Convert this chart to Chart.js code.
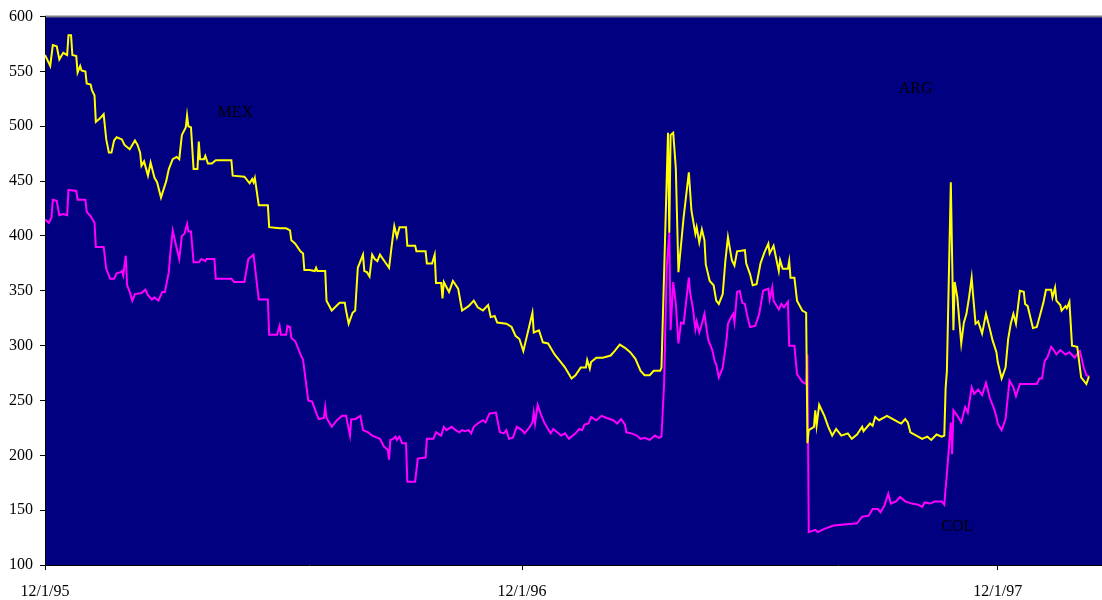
<!DOCTYPE html>
<html>
<head>
<meta charset="utf-8">
<script src="https://cdn.jsdelivr.net/npm/chart.js@4/dist/chart.umd.min.js"></script>
<style>
html,body{margin:0;padding:0;background:#fff;}
#wrap{width:1102px;height:600px;}
</style>
</head>
<body>
<div id="wrap"><canvas id="c" width="1102" height="600"></canvas></div>
<script>
// x values are days since 12/1/95
const tickDays = [0, 366, 731];
const tickLabels = ["12/1/95", "12/1/96", "12/1/97"];

const yellowDays = [0,4,6,9,11,14,17,18,20,21,24,25,27,28,31,32,35,36,38,39,42,45,47,49,51,53,55,59,61,65,69,71,73,74,76,79,81,84,86,89,93,95,98,101,103,105,108,109,110,112,114,117,118,119,122,123,125,128,131,143,144,153,157,159,160,161,164,171,172,180,185,188,189,192,196,198,199,203,207,208,209,215,216,220,226,230,231,233,236,238,240,244,245,247,249,251,253,255,257,261,264,266,268,270,272,277,278,284,285,292,293,297,299,300,304,305,306,310,313,317,320,325,329,332,336,340,342,345,347,354,358,361,364,367,374,375,379,382,386,391,395,399,404,407,411,415,416,418,419,423,428,434,437,441,445,449,453,457,460,464,467,472,473,478,479,480,482,484,486,488,490,494,496,499,500,502,504,506,507,510,513,515,517,520,522,524,527,529,531,537,538,541,543,546,549,552,555,556,559,563,564,566,570,571,572,575,577,581,584,585,586,590,591,592,594,598,601,604,607,611,616,619,623,627,628,633,635,637,640,646,655,657,660,662,664,670,673,677,680,684,688,690,691,692,695,697,698,700,703,705,707,709,711,712,714,716,719,722,725,727,730,731,734,737,739,741,743,745,748,751,752,754,758,761,766,768,772,773,775,776,779,780,783,784,786,788,792,795,799,801];
const yellowVals = [565,555,574,573,561,567,565,583,583,565,564,549,555,551,550,539,538,533,528,504,507,511,488,476,476,487,490,488,483,479,487,483,476,464,468,455,467,453,449,435,450,461,470,472,470,492,499,510,500,499,461,461,486,470,470,473,466,466,469,469,455,454,448,452,449,453,428,428,408,407,407,405,396,393,386,384,369,369,368,371,368,368,341,332,339,339,332,320,330,332,371,383,368,367,363,383,379,377,383,376,371,391,409,399,408,408,391,391,386,386,375,375,383,357,357,343,358,349,359,352,332,336,341,335,332,337,326,327,321,320,317,309,306,295,330,312,314,303,302,292,286,280,270,273,280,280,287,279,285,289,289,291,295,301,298,294,288,277,273,273,277,277,280,494,403,492,494,462,367,392,417,458,423,402,408,394,406,396,374,359,355,341,338,347,377,399,378,373,386,387,375,365,355,356,375,385,393,384,391,368,378,370,370,377,362,362,341,332,330,211,223,226,241,227,246,236,226,218,224,218,220,215,219,226,222,229,227,235,232,236,230,229,233,230,221,217,215,217,214,219,217,218,261,277,449,314,358,344,302,321,329,344,362,347,320,322,311,329,315,305,294,285,270,280,306,320,329,320,350,349,338,336,316,317,339,351,351,344,353,341,337,332,336,334,340,300,299,271,265,272];

const magentaDays = [0,3,5,6,9,11,14,17,18,24,25,31,32,35,38,39,45,47,50,53,55,58,59,60,62,63,65,67,69,74,77,79,82,84,87,90,92,95,96,98,100,103,105,107,109,110,112,114,118,120,123,124,130,131,143,145,153,156,159,160,164,171,172,178,180,181,185,186,188,189,192,196,198,202,205,208,210,214,215,216,220,224,228,231,234,235,238,242,244,248,251,257,260,263,264,265,267,269,270,272,274,277,278,284,286,292,293,298,300,304,306,308,312,315,318,320,322,325,327,329,332,336,338,341,346,349,352,354,356,359,362,366,368,372,374,375,376,378,380,383,386,388,390,393,396,399,402,407,410,412,414,417,419,423,427,431,436,439,442,445,446,450,454,457,460,464,468,471,473,475,477,479,480,482,484,486,488,490,492,494,495,497,499,500,502,504,506,508,509,512,514,515,517,520,523,524,526,528,529,531,533,535,537,539,541,545,548,551,555,556,558,559,563,565,567,570,571,575,577,581,584,585,586,591,593,598,605,623,627,632,635,639,641,644,647,649,653,656,660,665,670,673,675,679,683,688,690,691,692,695,696,697,700,703,706,708,711,713,716,719,722,725,728,730,731,734,737,740,743,745,748,752,761,763,765,767,769,772,774,776,779,783,786,790,793,794,797,799,801];
const magentaVals = [415,412,417,433,432,419,420,419,442,441,433,433,422,418,412,390,390,370,361,361,366,367,368,364,382,355,349,341,347,348,351,346,342,344,341,349,349,367,382,405,394,379,400,402,411,404,404,376,376,379,377,379,379,361,361,358,358,379,382,383,342,342,310,310,318,310,310,318,317,307,304,292,287,250,249,239,233,234,244,234,226,232,236,236,218,233,233,236,223,221,218,215,208,205,196,214,215,217,214,217,211,211,176,176,197,198,215,215,221,218,226,223,226,223,221,223,222,223,220,226,229,232,230,238,239,221,220,223,215,216,226,223,220,226,230,239,229,246,239,230,224,220,224,221,218,220,215,220,224,223,228,229,235,232,236,234,232,229,233,228,221,220,218,215,216,214,218,216,217,265,371,403,314,358,338,302,321,320,341,362,348,335,315,322,312,320,329,312,305,296,285,283,271,280,306,320,325,329,321,349,350,339,338,326,317,318,329,350,352,342,353,341,333,338,335,340,300,300,274,267,265,292,130,132,130,133,136,138,144,145,151,151,148,154,165,156,158,162,158,156,155,153,157,156,158,158,155,170,183,230,201,241,236,230,244,239,262,256,260,255,266,252,243,235,229,223,233,268,262,254,265,265,265,270,270,286,289,299,296,292,296,292,294,289,294,295,280,273,272];

// text labels placed in data coordinates
const noteTexts = ["MEX", "ARG", "COL"];
const noteDays = [146, 668, 700];
const noteVals = [512, 534, 135];

function pts(xs, ys) { return xs.map((x, i) => ({x: x, y: ys[i]})); }

const bgPlugin = {
  id: 'bg',
  beforeDraw(chart) {
    const a = chart.chartArea, ctx = chart.ctx;
    ctx.save();
    ctx.fillStyle = '#000080';
    ctx.fillRect(a.left, a.top, a.right - a.left, a.bottom - a.top);
    ctx.strokeStyle = '#808080';
    ctx.lineWidth = 2;
    ctx.beginPath();
    ctx.moveTo(a.left, a.top);
    ctx.lineTo(a.right, a.top);
    ctx.stroke();
    ctx.restore();
  },
  afterDatasetsDraw(chart) {
    const ctx = chart.ctx, xs = chart.scales.x, ys = chart.scales.y;
    ctx.save();
    ctx.fillStyle = '#000000';
    ctx.font = '16px "Liberation Serif", "Times New Roman", serif';
    ctx.textAlign = 'center';
    ctx.textBaseline = 'middle';
    noteTexts.forEach((t, i) => {
      ctx.fillText(t, xs.getPixelForValue(noteDays[i]), ys.getPixelForValue(noteVals[i]));
    });
    ctx.restore();
  }
};

new Chart(document.getElementById('c'), {
  type: 'line',
  data: {
    datasets: [
      {label: 'MEX', data: pts(yellowDays, yellowVals), borderColor: '#FFFF00', borderWidth: 2, pointRadius: 0, tension: 0, fill: false},
      {label: 'COL', data: pts(magentaDays, magentaVals), borderColor: '#FF00FF', borderWidth: 2, pointRadius: 0, tension: 0, fill: false}
    ]
  },
  options: {
    responsive: false,
    animation: false,
    layout: {padding: {top: 15, right: 0, bottom: 0, left: 0}},
    plugins: {legend: {display: false}, tooltip: {enabled: false}},
    scales: {
      x: {
        type: 'linear',
        min: 0,
        max: 811,
        afterBuildTicks(scale) { scale.ticks = tickDays.map(v => ({value: v})); },
        afterFit(scale) { scale.height = 35; },
        ticks: {
          autoSkip: false,
          maxRotation: 0,
          padding: 12,
          color: '#000',
          font: {family: '"Liberation Serif", "Times New Roman", serif', size: 16},
          callback(v) { const i = tickDays.indexOf(v); return i >= 0 ? tickLabels[i] : ''; }
        },
        grid: {drawOnChartArea: false, drawTicks: true, tickLength: 5, color: '#000'},
        border: {display: true, color: '#000', width: 1}
      },
      y: {
        min: 100,
        max: 600,
        afterFit(scale) { scale.width = 45; },
        ticks: {
          stepSize: 50,
          padding: 7,
          color: '#000',
          font: {family: '"Liberation Serif", "Times New Roman", serif', size: 16}
        },
        grid: {drawOnChartArea: false, drawTicks: true, tickLength: 5, color: '#000'},
        border: {display: true, color: '#000', width: 1}
      }
    }
  },
  plugins: [bgPlugin]
});
</script>
</body>
</html>
